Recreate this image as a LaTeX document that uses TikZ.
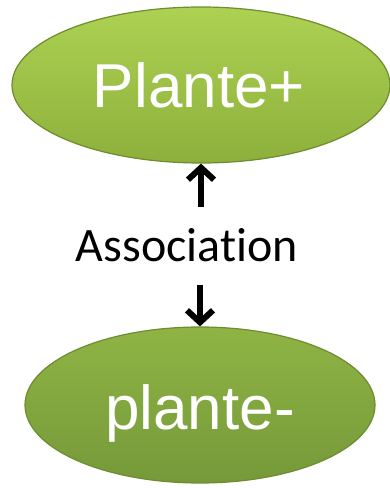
\documentclass[tikz,border=0pt]{standalone}
\usepackage{fontspec}
\setmainfont{Liberation Sans}
\newfontfamily\labelfont[Ligatures={NoCommon}]{Carlito}
\usetikzlibrary{shapes.geometric,arrows.meta}
\definecolor{leafTop}{HTML}{ADD152}
\definecolor{leafBot}{HTML}{8DB03C}
\definecolor{oliveTop}{HTML}{8FB444}
\definecolor{oliveBot}{HTML}{76993A}
\definecolor{rimGreen}{HTML}{6E8C30}
\tikzset{
  bubble/.style={ellipse, draw=rimGreen, line width=1.2pt, text=white,
    font=\fontsize{62}{62}\selectfont, inner sep=0pt},
  linkarrow/.style={line width=6pt, -{Straight Barb[length=12pt,width=26pt]}}
}
\begin{document}
\begin{tikzpicture}[x=1pt,y=1pt]
  \useasboundingbox (0,0) rectangle (390,488);
  \fill[white] (0,0) rectangle (390,488);
  % upper ellipse
  \node[bubble, top color=leafTop, bottom color=leafBot,
        minimum width=378pt, minimum height=156pt] (plus) at (201,403) {};
  \node[text=white, font=\fontsize{62}{62}\selectfont, anchor=base] (plustxt) at (199,380) {Plante+};
  % lower ellipse
  \node[bubble, top color=oliveTop, bottom color=oliveBot,
        minimum width=350pt, minimum height=156pt] (minus) at (200,83) {};
  \node[text=white, font=\fontsize{62}{62}\selectfont, anchor=base] (minustxt) at (200,58) {plante-};
  % middle label
  \node[font=\labelfont\fontsize{48}{48}\selectfont, anchor=base, inner xsep=0pt,
        inner ysep=0pt, text height=55pt, text depth=23pt] (assoc) at (187,226) {Association};
  \draw[linkarrow] (assoc.north -| plus.south) -- (plus.south);
  \draw[linkarrow] (assoc.south -| minus.north) -- (minus.north);
\end{tikzpicture}
\end{document}
